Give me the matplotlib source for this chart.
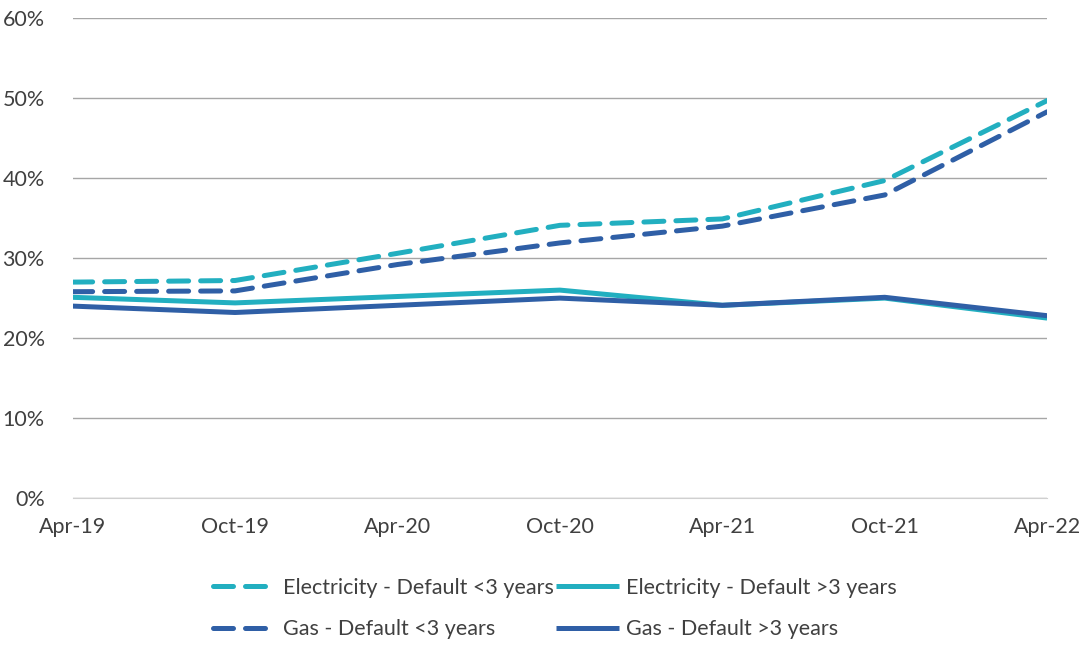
import matplotlib
matplotlib.use("Agg")
import matplotlib.pyplot as plt
from matplotlib.ticker import PercentFormatter

plt.rcParams['font.family'] = ['Lato', 'DejaVu Sans']

# Data (percent)
periods = ["Apr-19", "Oct-19", "Apr-20", "Oct-20", "Apr-21", "Oct-21", "Apr-22"]
elec_lt3 = [27.0, 27.2, 30.6, 34.1, 34.9, 39.7, 49.7]
elec_gt3 = [25.1, 24.4, 25.2, 26.0, 24.1, 25.0, 22.5]
gas_lt3 = [25.8, 25.9, 29.2, 31.9, 34.0, 37.9, 48.3]
gas_gt3 = [24.0, 23.2, 24.1, 25.0, 24.1, 25.1, 22.8]

teal = "#22AFC0"
blue = "#2F5FA6"

fig = plt.figure(figsize=(10.84, 6.51), dpi=100)
ax = fig.add_axes([0.067, 0.235, 0.899, 0.737])

x = range(len(periods))
lw = 3.6
l1, = ax.plot(x, elec_lt3, color=teal, lw=lw, dashes=(4, 2.4), dash_capstyle="round",
              label="Electricity - Default <3 years", zorder=3)
l2, = ax.plot(x, elec_gt3, color=teal, lw=lw, solid_capstyle="butt",
              label="Electricity - Default >3 years", zorder=3)
l3, = ax.plot(x, gas_lt3, color=blue, lw=lw, dashes=(4, 2.4), dash_capstyle="round",
              label="Gas - Default <3 years", zorder=3)
l4, = ax.plot(x, gas_gt3, color=blue, lw=lw, solid_capstyle="butt",
              label="Gas - Default >3 years", zorder=4)

ax.set_xlim(0, len(periods) - 1)
ax.set_ylim(0, 60)
ax.set_yticks(range(0, 61, 10))
ax.yaxis.set_major_formatter(PercentFormatter(decimals=0))
ax.set_xticks(list(x))
ax.set_xticklabels(periods)
ax.grid(axis="y", color="#A6A6A6", lw=1.0)
for s in ["top", "right", "left"]:
    ax.spines[s].set_visible(False)
ax.spines["bottom"].set_color("#D0D0D0")
ax.tick_params(length=0, labelsize=15.5, colors="#404040")
ax.tick_params(axis="x", pad=14)
ax.tick_params(axis="y", pad=20)

# legend filled column-wise: order so rows read elec <3, elec >3 / gas <3, gas >3
handles = [l1, l3, l2, l4]
fig.legend(handles=handles, labels=[h.get_label() for h in handles],
           loc="lower center", bbox_to_anchor=(0.512, -0.012), ncol=2, frameon=False,
           fontsize=15.5, handlelength=2.9, handletextpad=0.35, columnspacing=0.1,
           labelspacing=1.0, labelcolor="#404040")

fig.savefig("out.png", dpi=100)
